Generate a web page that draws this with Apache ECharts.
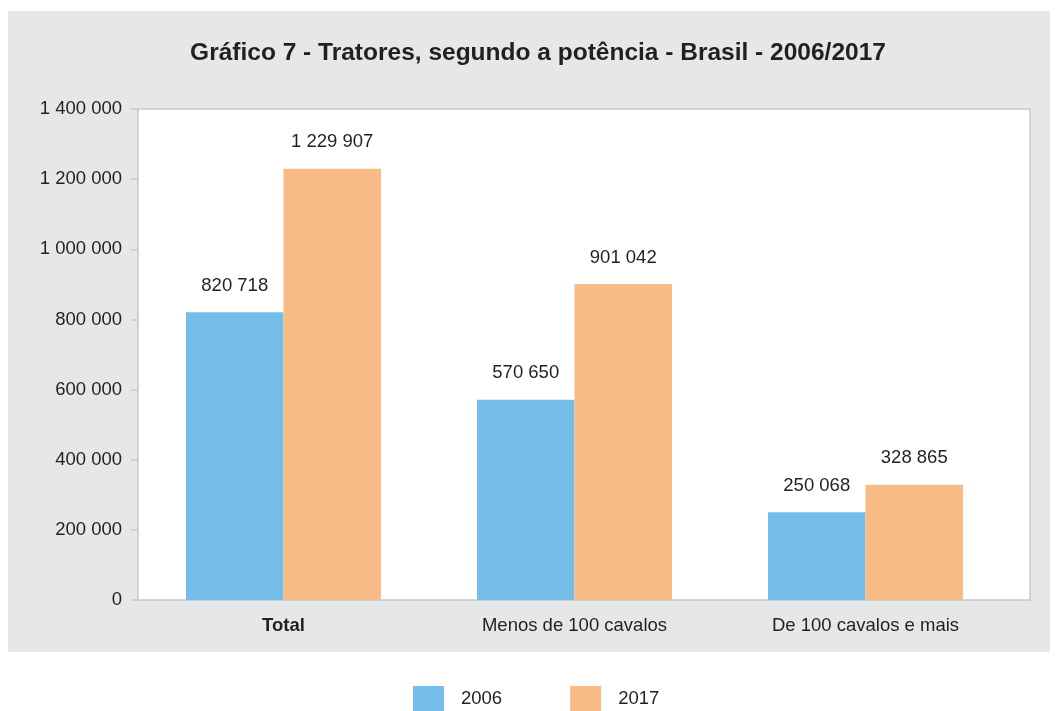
<!DOCTYPE html>
<html><head><meta charset="utf-8">
<script src="https://cdn.jsdelivr.net/npm/echarts@6/dist/echarts.min.js"></script>
<style>html,body{margin:0;padding:0;background:#fff}#c{width:1056px;height:711px}</style>
</head><body><div id="c"></div>
<script>
var categories = ['Total', 'Menos de 100 cavalos', 'De 100 cavalos e mais'];
var values2006 = [820718, 570650, 250068];
var values2017 = [1229907, 901042, 328865];
var yTicks = [0, 200000, 400000, 600000, 800000, 1000000, 1200000, 1400000];

function fmt(v){ return String(v).replace(/\B(?=(\d{3})+(?!\d))/g, ' '); }
var FONT = '"Liberation Sans", Arial, sans-serif';
var TXT = '#231f20';
var FS = 18.5;
var LINE = '#c8c9cb';

var chart = echarts.init(document.getElementById('c'), null, {renderer:'canvas'});
chart.setOption({
  backgroundColor: '#ffffff',
  animation: false,
  graphic: [
    {
      type: 'rect', z: -10, silent: true,
      shape: {x: 8, y: 11, width: 1042, height: 641},
      style: {fill: '#e6e7e8'}
    },
    {
      type: 'rect', z: -9, silent: true,
      shape: {x: 138, y: 109, width: 892, height: 491},
      style: {fill: '#ffffff', stroke: LINE, lineWidth: 1.5}
    }
  ],
  title: {
    text: 'Gráfico 7 - Tratores, segundo a potência - Brasil - 2006/2017',
    left: 533, textAlign: 'center', top: 36,
    textStyle: {fontFamily: FONT, fontSize: 24.5, fontWeight: 'bold', color: TXT}
  },
  legend: {
    left: 408, top: 681,
    itemWidth: 31, itemHeight: 25, itemGap: 68,
    icon: 'rect',
    textStyle: {fontFamily: FONT, fontSize: FS, color: TXT, padding: [0,0,0,12]},
    data: ['2006', '2017']
  },
  grid: {
    left: 138, right: 45, top: 109, bottom: 111,
    show: false
  },
  xAxis: {
    type: 'category', data: categories,
    axisLine: {show: false},
    axisTick: {show: false},
    axisLabel: {
      margin: 16, fontFamily: FONT, fontSize: FS, color: TXT,
      formatter: function(v){ return v === 'Total' ? '{b|' + v + '}' : v; },
      rich: {b: {fontFamily: FONT, fontSize: FS, fontWeight: 'bold', color: TXT}}
    }
  },
  yAxis: {
    type: 'value', min: 0, max: 1400000, interval: 200000,
    axisLine: {show: false},
    axisTick: {show: true, length: 7, lineStyle: {color: LINE, width: 1.5}},
    splitLine: {show: false},
    axisLabel: {
      margin: 16, fontFamily: FONT, fontSize: FS, color: TXT,
      formatter: function(v){ return yTicks.indexOf(v) >= 0 ? fmt(v) : ''; }
    }
  },
  series: [
    {
      name: '2006', type: 'bar', data: values2006,
      barGap: '0%', barCategoryGap: '33%',
      itemStyle: {color: '#74bde8'},
      label: {show: true, position: 'top', distance: 17, fontFamily: FONT, fontSize: FS, color: TXT,
        formatter: function(p){ return fmt(p.value); }}
    },
    {
      name: '2017', type: 'bar', data: values2017,
      barGap: '0%', barCategoryGap: '33%',
      itemStyle: {color: '#f9bb85'},
      label: {show: true, position: 'top', distance: 17, fontFamily: FONT, fontSize: FS, color: TXT,
        formatter: function(p){ return fmt(p.value); }}
    }
  ]
});
</script></body></html>
